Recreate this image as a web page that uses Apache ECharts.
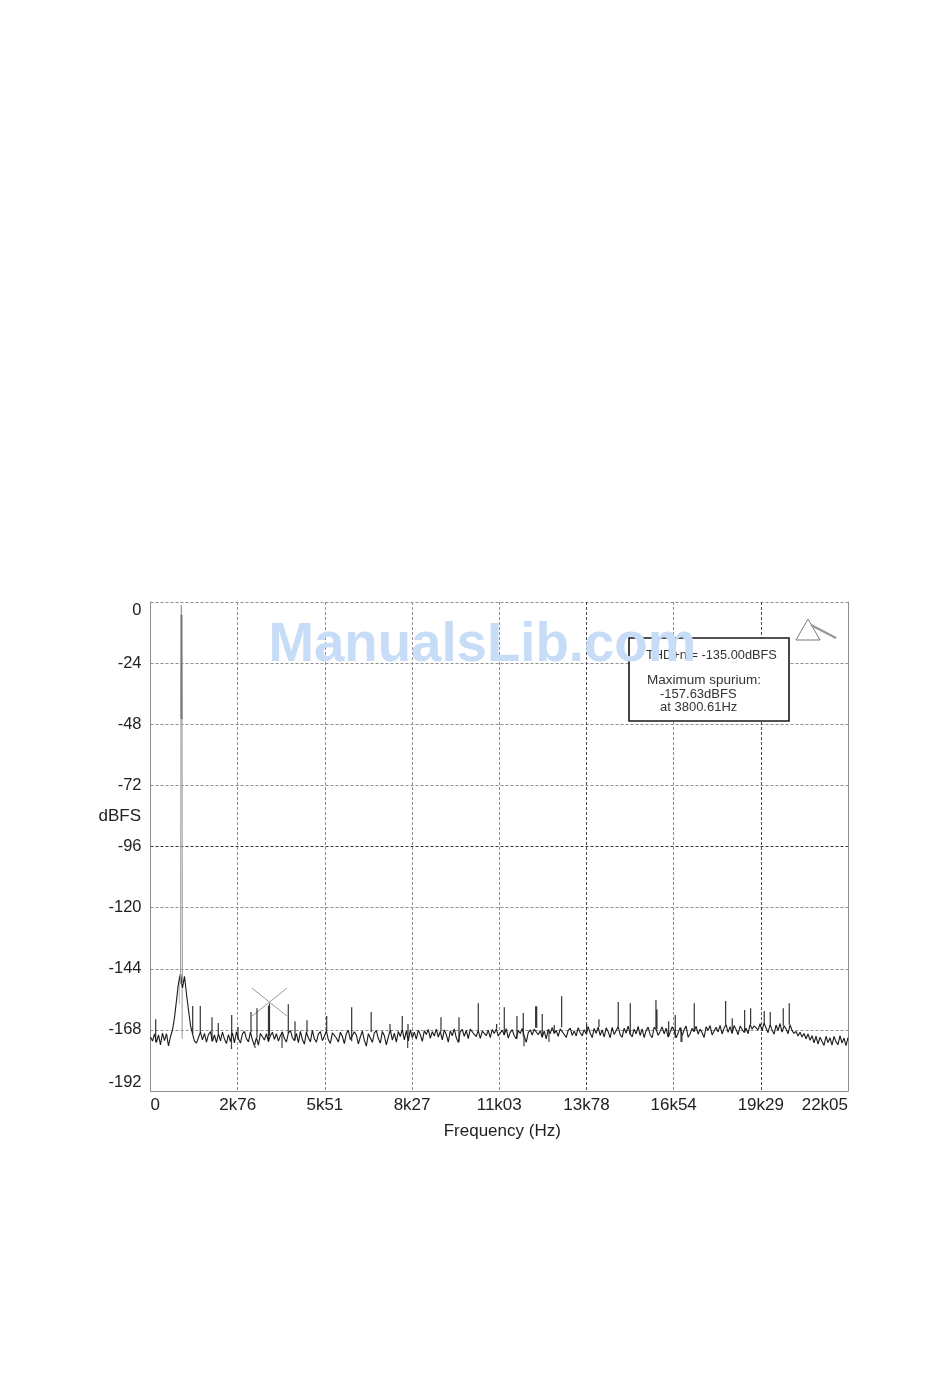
<!DOCTYPE html>
<html>
<head>
<meta charset="utf-8">
<style>html,body{margin:0;padding:0;background:#fff}#chart{width:950px;height:1398px}</style>
<script src="https://cdn.jsdelivr.net/npm/echarts@6/dist/echarts.min.js"></script>
</head>
<body>
<div id="chart"></div>
<script>
const xTickLabels = ['0','2k76','5k51','8k27','11k03','13k78','16k54','19k29','22k05'];
const freqMax = 22050;
const noiseDb = [
-170.8,-172.4,-169.6,-172.9,-170.0,-173.9,-169.3,-172.2,-169.5,-174.3,-170.7,
-168.0,-163.2,-156.5,-149.6,-146.0,-151.5,-147.0,-153.8,-160.1,-166.2,-169.5,-172.4,
-173.2,-171.0,-168.9,-171.9,-169.4,-172.8,-169.8,-168.7,-172.5,-170.0,
-173.0,-169.5,-172.3,-168.9,-171.6,-173.4,-169.9,-172.6,-169.2,-173.1,
-168.8,-171.5,-173.2,-169.6,-168.6,-171.4,-172.7,-168.9,-171.9,-174.2,
-171.0,-174.0,-169.4,-168.8,-172.0,-169.5,-172.6,-170.3,-168.9,-171.7,
-169.5,-172.4,-170.2,-168.8,-171.4,-172.8,-169.2,-168.3,-171.1,-172.2,
-169.4,-173.0,-168.6,-171.8,-173.6,-168.9,-171.2,-172.7,-168.2,-171.5,
-172.9,-169.6,-168.7,-172.2,-170.5,-168.4,-171.9,-173.3,-169.2,-168.6,
-171.2,-172.8,-168.9,-170.6,-173.4,-169.4,-168.2,-171.8,-172.5,-168.7,
-170.1,-173.5,-170.7,-168.5,-172.1,-174.4,-169.5,-168.8,-172.9,-169.2,
-168.3,-171.4,-173.2,-168.6,-170.3,-173.9,-170.8,-167.9,-172.0,-169.3,
-172.8,-168.6,-170.6,-167.8,-171.9,-168.4,-172.3,-168.0,-171.0,-168.9,
-171.6,-168.1,-169.9,-172.5,-168.3,-169.8,-167.8,-171.3,-168.7,-170.4,
-167.7,-170.8,-168.6,-171.9,-168.0,-169.9,-172.8,-168.4,-170.3,-167.6,
-171.1,-172.9,-168.7,-167.8,-170.5,-168.2,-171.4,-167.7,-168.1,-169.8,
-170.6,-168.2,-171.3,-168.5,-168.0,-170.3,-168.1,-171.0,-167.9,-169.4,
-167.6,-170.4,-171.1,-168.1,-170.0,-167.5,-171.2,-169.0,-167.9,-170.3,
-171.5,-168.2,-169.4,-167.4,-170.5,-172.9,-169.1,-168.0,-170.0,-167.7,
-167.2,-169.9,-168.3,-170.9,-168.4,-171.5,-167.8,-169.5,-167.0,-169.4,
-168.3,-170.5,-167.6,-167.0,-169.8,-171.0,-168.2,-167.3,-170.2,-168.4,
-170.4,-167.1,-169.1,-170.3,-167.9,-169.6,-166.7,-169.3,-171.0,-167.4,
-169.4,-166.9,-170.2,-168.0,-170.8,-167.2,-168.7,-171.1,-167.0,-169.8,
-168.2,-166.7,-169.9,-170.9,-167.3,-169.3,-166.5,-169.7,-170.7,-167.7,
-169.6,-166.6,-170.2,-167.6,-171.0,-168.3,-166.9,-169.9,-171.1,-167.0,
-167.8,-170.1,-168.6,-166.8,-169.6,-167.3,-170.8,-169.0,-166.8,-168.2,
-171.1,-169.2,-167.1,-170.3,-168.0,-166.5,-170.9,-169.5,-167.4,-168.7,
-166.6,-169.7,-167.7,-169.1,-171.0,-166.8,-168.2,-166.3,-170.0,-170.7,
-167.0,-168.8,-166.2,-169.6,-167.4,-165.9,-169.0,-166.7,-169.4,-166.3,
-167.9,-169.9,-166.5,-165.8,-169.0,-167.3,-169.5,-165.9,-167.7,-166.4,
-165.7,-168.0,-165.6,-168.4,-165.2,-167.3,-169.1,-165.9,-168.0,-169.7,
-166.1,-168.3,-165.5,-168.9,-166.4,-167.6,-169.5,-166.0,-168.2,-169.4,
-168.6,-170.4,-168.9,-170.8,-169.4,-171.5,-169.6,-172.1,-170.3,-173.1,
-170.5,-173.6,-170.9,-172.6,-174.1,-170.5,-173.0,-171.1,-174.0,-170.6,
-172.7,-173.8,-170.3,-173.2,-171.2,-174.2,-171.0
];
const toneHz = [951,965,975,985,995,1008];
const toneDb = [-150,-40,-1.2,-1.2,-40,-150];
const toneCoreHz = [980,980];
const toneCoreDb = [-5,-46];
const toneTailHz = [1000,1000];
const toneTailDb = [-146,-171.5];
const toneSideHz = [910,910];
const toneSideDb = [-147,-158];
const spurHz = [164,1334,1574,1944,2143,2567,2766,3177,3366,3730,3762,4356,4568,4947,5570,6360,6976,7571,7959,8140,9183,9752,10362,10943,11184,11585,11784,12176,12208,12385,12764,12998,13788,14177,14787,15167,15979,16010,16380,16589,17190,18182,18391,18783,18972,19402,19592,20003,20193];
const spurDb = [-163.8,-158.6,-158.6,-163,-165.3,-162.2,-166.9,-161,-159.5,-158.5,-157.63,-157.9,-164.6,-164.2,-162.6,-159.1,-161,-165.7,-162.6,-165.7,-163,-163,-157.5,-165.7,-159.1,-162.6,-161.4,-158.7,-158.7,-161.8,-166.1,-154.8,-165.7,-163.8,-157.1,-157.5,-156.3,-160,-164.6,-162.2,-157.5,-156.7,-163.4,-160.2,-159.5,-160.6,-161,-159.5,-157.5];
const dipHz = [2560,3303,4157,8130,11806,12597,16770,16800];
const dipDb = [-175.5,-175.1,-175.1,-175.1,-174.4,-172.8,-172.8,-172.8];
const crossAHz = [3208,4315];
const crossADb = [-151.6,-162.6];
const crossBHz = [3208,4315];
const crossBDb = [-162.6,-151.6];
const boxLines = ['THD+n = -135.00dBFS','Maximum spurium:','-157.63dBFS','at 3800.61Hz'];

const step = freqMax / (noiseDb.length - 1);
const zip = (a, b) => a.map((v, i) => [v, b[i]]);
const noiseData = noiseDb.map((v, i) => [i * step, v]);
const stems = (hz, db) => {
  const out = [];
  hz.forEach((f, i) => {
    out.push([f, noiseDb[Math.round(f / step)]], [f, db[i]], [f, null]);
  });
  return out;
};
const lineS = (name, data, color, width, z) => ({
  name, type: 'line', data, symbol: 'none', silent: true, z,
  connectNulls: false, lineStyle: {color, width}, clip: true
});
const font = '"Liberation Sans", Arial, sans-serif';
const grey = '#8e8e8e', dark = '#4a4a4a';
const chart = echarts.init(document.getElementById('chart'), null, {renderer: 'canvas'});
const boxText = (i, x, y, size) => ({
  type: 'text', x, y, z: 20,
  style: {text: boxLines[i], font: size + 'px ' + font, fill: '#333', verticalAlign: 'middle'}
});
chart.setOption({
  animation: false,
  backgroundColor: '#fff',
  grid: {left: 150.5, right: 102, top: 602, bottom: 307, containLabel: false},
  xAxis: {
    type: 'value', min: 0, max: freqMax, interval: freqMax / 8,
    name: 'Frequency (Hz)', nameLocation: 'middle', nameGap: 32,
    nameTextStyle: {fontFamily: font, fontSize: 17, color: '#222', padding: [0, 0, 0, 6]},
    axisLine: {show: true, onZero: false, lineStyle: {color: grey, width: 1}},
    axisTick: {show: false},
    axisLabel: {
      fontFamily: font, fontSize: 17, color: '#222', margin: 6,
      alignMinLabel: 'left', alignMaxLabel: 'right',
      formatter: v => xTickLabels[Math.round(v / (freqMax / 8))]
    },
    splitLine: {show: true, lineStyle: {type: [3, 2], width: 1,
      color: [grey, grey, grey, grey, grey, dark, grey, dark, grey]}}
  },
  yAxis: [{
    type: 'value', min: -192, max: 0, interval: 24, position: 'left',
    axisLine: {show: true, onZero: false, lineStyle: {color: grey, width: 1}},
    axisTick: {show: false},
    axisLabel: {
      fontFamily: font, fontSize: 16.5, color: '#222', margin: 9,
      verticalAlignMinLabel: 'bottom', verticalAlignMaxLabel: 'top'
    },
    splitLine: {show: true, lineStyle: {type: [3, 2], width: 1,
      color: [grey, grey, grey, grey, '#3a3a3a', grey, grey, grey, grey]}}
  }, {
    type: 'value', min: -192, max: 0, interval: 24, position: 'right',
    axisLine: {show: true, onZero: false, lineStyle: {color: grey, width: 1}},
    axisTick: {show: false}, axisLabel: {show: false}, splitLine: {show: false}
  }],
  series: [
    lineS('cross A', zip(crossAHz, crossADb), '#999', 1, 2),
    lineS('cross B', zip(crossBHz, crossBDb), '#999', 1, 2),
    lineS('spurs', stems(spurHz, spurDb), '#333', 1.2, 3),
    lineS('dips', stems(dipHz, dipDb), '#444', 1.2, 3),
    lineS('noise floor', noiseData, '#1a1a1a', 1.1, 4),
    lineS('tone', zip(toneHz, toneDb), '#999', 1, 5),
    lineS('tone core', zip(toneCoreHz, toneCoreDb), '#777', 2, 6),
    lineS('tone tail', zip(toneTailHz, toneTailDb), '#999', 1, 3),
    lineS('tone side', zip(toneSideHz, toneSideDb), '#bbb', 1, 3)
  ],
  graphic: [
    {type: 'text', z: 20, x: 141, y: 816,
      style: {text: 'dBFS', font: '17px ' + font, fill: '#222', align: 'right', verticalAlign: 'middle'}},
    {type: 'rect', z: 10, shape: {x: 629, y: 638, width: 160, height: 83},
      style: {fill: '#fff', stroke: '#1a1a1a', lineWidth: 1.6}},
    boxText(0, 646, 655, 12.8),
    boxText(1, 647, 680, 13.5),
    boxText(2, 660, 694, 13),
    boxText(3, 660, 707, 13),
    {type: 'polygon', z: 10, shape: {points: [[796, 640], [820, 640], [808, 619]]},
      style: {fill: '#fff', stroke: '#777', lineWidth: 1}},
    {type: 'line', z: 10, shape: {x1: 811, y1: 625, x2: 836, y2: 638},
      style: {stroke: '#999', lineWidth: 2.4}},
    {type: 'text', z: 30, x: 268.5, y: 646,
      style: {text: 'ManualsLib.com', font: 'bold 54.6px ' + font, fill: '#c6dcf7', verticalAlign: 'middle'}}
  ]
});
</script>
</body>
</html>
